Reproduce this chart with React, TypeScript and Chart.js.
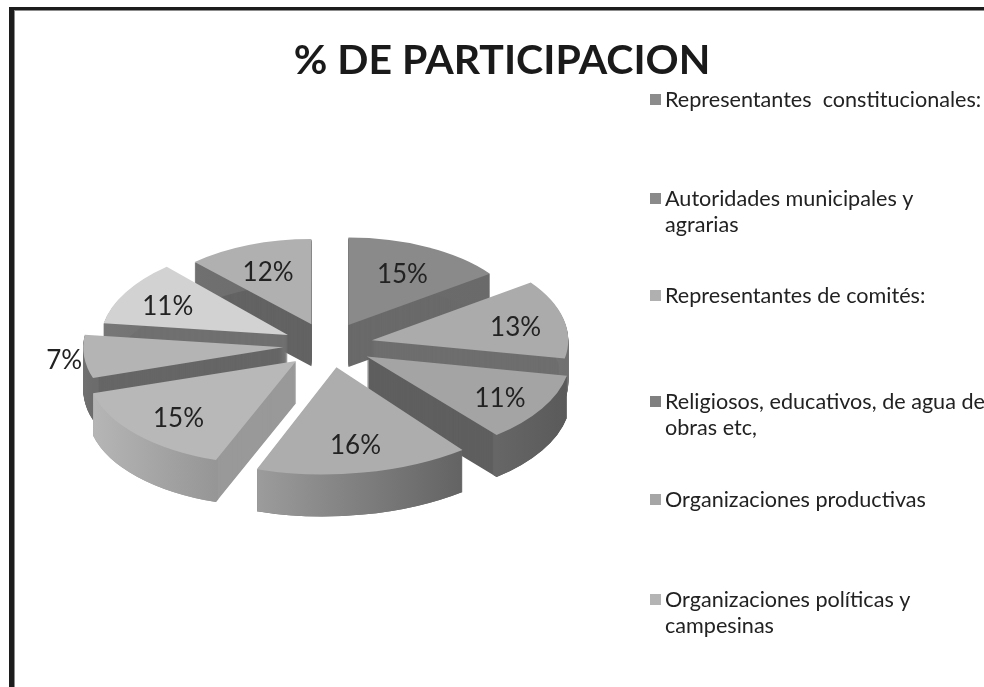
import React, { useEffect, useRef } from "react";
import { Chart, registerables } from "chart.js";

Chart.register(...registerables);

const categories = [
  "Representantes  constitucionales:",
  "Autoridades municipales y agrarias",
  "Representantes de comités:",
  "Religiosos, educativos, de agua de obras etc,",
  "Organizaciones productivas",
  "Organizaciones políticas y campesinas",
  "Otros A",
  "Otros B",
];
const shares = [15, 13, 11, 16, 15, 7, 11, 12];
const topColors = ["#8a8a8a", "#ababab", "#a4a4a4", "#adadad", "#b8b8b8", "#b4b4b4", "#d2d2d2", "#b0b0b0"];
const cutColors = ["#6a6a6a", "#6e6e6e", "#5f5f5f", "#6a6a6a", "#999999", "#666666", "#707070", "#636363"];
const rimFrom = ["#6c6c6c", "#7a7a7a", "#666666", "#9c9c9c", "#b6b6b6", "#707070", "#777777", "#707070"];
const rimTo = ["#6a6a6a", "#707070", "#5a5a5a", "#636363", "#969696", "#6c6c6c", "#707070", "#6a6a6a"];
const labelReach = [0.68, 0.75, 0.76, 0.72, 0.74, 1.1, 0.74, 0.69];
const sliceGrow = [1.02, 1.05, 1, 1, 1, 1.03, 1.03, 1];
const sliceLean = [0, 0, 0, -0.13, -0.16, 0, -0.1, 0];

const legendRows = [
  ["Representantes  constitucionales:"],
  ["Autoridades municipales y", "agrarias"],
  ["Representantes de comités:"],
  ["Religiosos, educativos, de agua de", "obras etc,"],
  ["Organizaciones productivas"],
  ["Organizaciones políticas y", "campesinas"],
];
const legendColors = ["#8c8c8c", "#8a8a8a", "#b0b0b0", "#808080", "#a6a6a6", "#b4b4b4"];
const legendTops = [100, 199, 296, 402, 500, 600];

const FLAT = 0.5;
const DEPTH = 42;
const PIE_SHIFT = -174;
const FONT = "Lato, Carlito, 'Open Sans', sans-serif";

const pie3d = {
  id: "pie3d",
  beforeDraw(chart: any) {
    const { ctx } = chart;
    ctx.save();
    ctx.fillStyle = "#ffffff";
    ctx.fillRect(0, 0, chart.width, chart.height);
    ctx.fillStyle = "#8c8c8c";
    ctx.fillRect(14, 10, chart.width, 1);
    ctx.fillRect(14, 10, 1, chart.height);
    ctx.fillStyle = "#1c1c1c";
    ctx.fillRect(9, 7, chart.width, 3);
    ctx.fillRect(9, 7, 5, chart.height);
    ctx.restore();
  },
  beforeDatasetsDraw(chart: any) {
    const { ctx } = chart;
    const arcs: any[] = chart.getDatasetMeta(0).data;
    const info = arcs.map((arc, i) => {
      const mid = (arc.startAngle + arc.endAngle) / 2;
      const off = arc.options.offset;
      return {
        arc,
        i,
        mid,
        ax: arc.x + off * Math.cos(mid),
        ay: arc.y + off * Math.sin(mid) * FLAT,
        s: (1 + 0.12 * Math.sin(mid)) * sliceGrow[i],
        lean: sliceLean[i],
      };
    });
    const place = (d: any, dy: number) => {
      ctx.translate(d.ax, d.ay + dy);
      ctx.transform(1, 0, d.lean, 1, 0, 0);
      ctx.scale(d.s, d.s * FLAT);
      ctx.translate(-d.arc.x, -d.arc.y);
    };
    const paint = (arc: any, fill: any, inner: number) => {
      const el = Object.create(arc);
      el.innerRadius = inner;
      el.options = {
        backgroundColor: fill,
        borderColor: "transparent",
        borderWidth: 0,
        borderAlign: "center",
        borderRadius: 0,
        borderJoinStyle: "round",
        offset: 0,
        spacing: 0,
        circular: true,
        selfJoin: false,
        angle: undefined,
      };
      el.draw(ctx);
    };
    ctx.save();
    ctx.translate(PIE_SHIFT, 0);
    const order = [...info].sort((a, b) => Math.sin(a.mid) - Math.sin(b.mid));
    order.forEach((d) => {
      const { arc, i } = d;
      const R = arc.outerRadius;
      const ends = [arc.startAngle, arc.endAngle, d.mid].map((a) => arc.x + R * Math.cos(a));
      const grad = ctx.createLinearGradient(Math.min(...ends), 0, Math.max(...ends), 0);
      grad.addColorStop(0, rimFrom[i]);
      grad.addColorStop(1, rimTo[i]);
      for (let dy = DEPTH; dy >= 1; dy--) {
        ctx.save();
        place(d, dy);
        paint(arc, cutColors[i], 0);
        ctx.restore();
      }
      for (let dy = DEPTH; dy >= 1; dy--) {
        ctx.save();
        place(d, dy);
        paint(arc, grad, R - 6);
        ctx.restore();
      }
      ctx.save();
      place(d, 0);
      paint(arc, topColors[i], 0);
      ctx.restore();
    });
    ctx.fillStyle = "#222222";
    ctx.font = `26px ${FONT}`;
    ctx.textAlign = "center";
    ctx.textBaseline = "middle";
    info.forEach((d) => {
      const r = d.arc.outerRadius * d.s * labelReach[d.i];
      const ly = r * Math.sin(d.mid) * FLAT;
      ctx.fillText(`${shares[d.i]}%`, d.ax + r * Math.cos(d.mid) + d.lean * ly, d.ay + ly + 3);
    });
    ctx.restore();
    return false;
  },
  afterDraw(chart: any) {
    const { ctx } = chart;
    ctx.save();
    ctx.font = `21.6px ${FONT}`;
    ctx.textBaseline = "middle";
    legendRows.forEach((lines, i) => {
      const y = legendTops[i];
      ctx.fillStyle = legendColors[i];
      ctx.fillRect(650, y - 6, 11, 11);
      ctx.fillStyle = "#222222";
      lines.forEach((line, j) => ctx.fillText(line, 665, y + j * 26));
    });
    ctx.restore();
  },
};

export default function App() {
  const ref = useRef<HTMLCanvasElement | null>(null);
  useEffect(() => {
    const chart = new Chart(ref.current as HTMLCanvasElement, {
      type: "pie",
      data: {
        labels: categories,
        datasets: [
          {
            data: shares,
            backgroundColor: topColors,
            borderWidth: 0,
            offset: 45,
            radius: 192,
          } as any,
        ],
      },
      options: {
        animation: false,
        responsive: false,
        events: [],
        radius: 192,
        layout: { padding: { left: 20, right: 0, top: 0, bottom: 82 } },
        plugins: {
          legend: { display: false },
          tooltip: { enabled: false },
          title: {
            display: true,
            text: "% DE PARTICIPACION",
            color: "#1a1a1a",
            font: { family: FONT, size: 41, weight: "bold", lineHeight: 1.2 },
            padding: { top: 36, bottom: 0 },
          },
        },
      } as any,
      plugins: [pie3d],
    });
    return () => chart.destroy();
  }, []);
  return (
    <canvas
      ref={ref}
      width={984}
      height={687}
      style={{ position: "absolute", left: 0, top: 0, width: 984, height: 687 }}
    />
  );
}
